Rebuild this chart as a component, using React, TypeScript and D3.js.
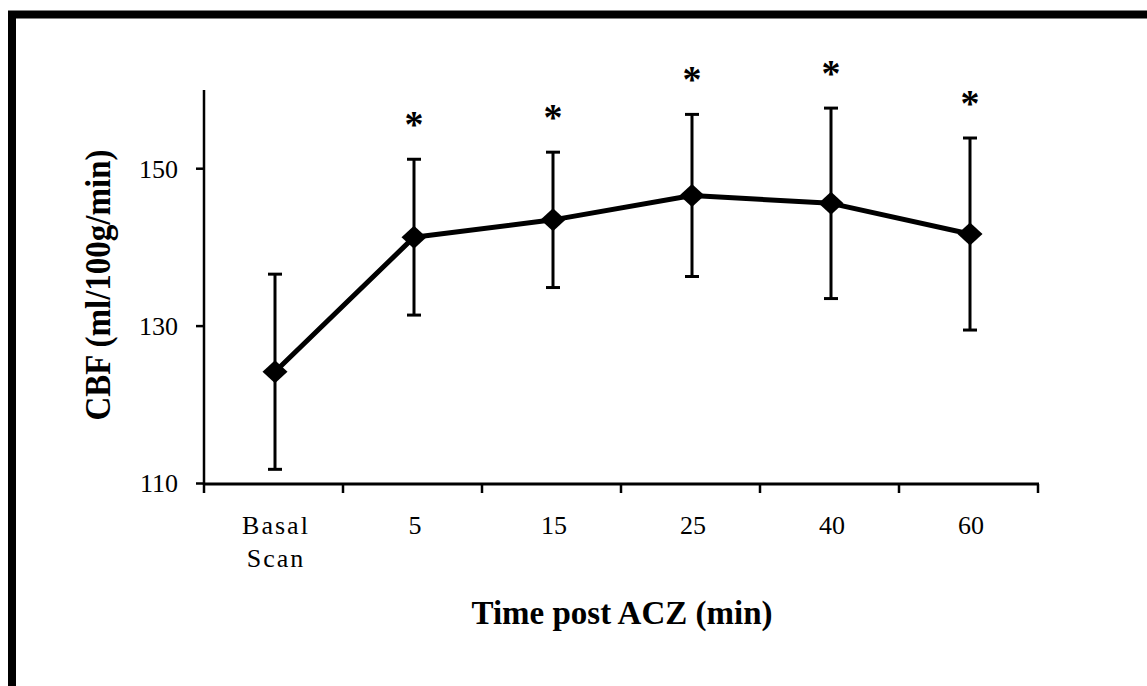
import * as d3 from "d3";

// CBF after acetazolamide: mean ± SD per scan time, * = significant vs basal
const categories = ["Basal Scan", "5", "15", "25", "40", "60"];
const meanCBF = [124.2, 141.3, 143.5, 146.6, 145.6, 141.7];
const sdCBF = [12.4, 9.9, 8.6, 10.3, 12.1, 12.2];
const significant = [false, true, true, true, true, true];
const yTicks = [110, 130, 150];

const W = 1147, H = 686;
const serif = "'Liberation Serif', 'Times New Roman', serif";

export default function App() {
  const x = d3.scaleBand().domain(categories).range([204, 1038]).padding(0);
  const y = d3.scaleLinear().domain([110, 160]).range([483.5, 90]);
  const cx = (c: string) => (x(c) ?? 0) + x.bandwidth() / 2 + 1.5;

  const pts = categories.map((c, i) => ({ c, m: meanCBF[i], sd: sdCBF[i], sig: significant[i] }));
  const line = d3.line<(typeof pts)[number]>().x((d) => cx(d.c)).y((d) => y(d.m))(pts) ?? "";

  const boundaries = [...categories.map((c) => x(c) ?? 0), 1038];
  const dw = 12.5, dh = 11.5, cap = 7;

  return (
    <div style={{ position: "absolute", left: 0, top: 0 }}>
      <svg width={W} height={H} style={{ display: "block", background: "#fff" }}>
        {/* frame, right and bottom edges cut off */}
        <rect x={12} y={14.5} width={1300} height={900} fill="none" stroke="#000" strokeWidth={8} />

        {/* axes */}
        <line x1={204} x2={204} y1={90} y2={485} stroke="#000" strokeWidth={2.5} />
        <line x1={203} x2={1039} y1={484} y2={484} stroke="#000" strokeWidth={3} />
        {yTicks.map((t) => (
          <g key={t}>
            <line x1={196} x2={204} y1={y(t)} y2={y(t)} stroke="#000" strokeWidth={2.5} />
            <text x={178} y={y(t)} dy="0.34em" textAnchor="end" fontSize={26} fontFamily={serif}>{t}</text>
          </g>
        ))}
        {boundaries.map((b, i) => (
          <line key={i} x1={b} x2={b} y1={484} y2={493} stroke="#000" strokeWidth={2.5} />
        ))}
        {categories.map((c) => {
          const parts = c.split(" ");
          return (
            <text key={c} x={cx(c)} y={534} textAnchor="middle" fontSize={26} fontFamily={serif}
              letterSpacing={parts.length > 1 ? 2 : 0}>
              {parts.map((p, j) => (
                <tspan key={j} x={cx(c) + 1} dy={j === 0 ? 0 : 33}>{p}</tspan>
              ))}
            </text>
          );
        })}

        {/* axis titles */}
        <text transform="translate(110,285) rotate(-90)" textAnchor="middle" fontSize={36} fontWeight="bold"
          fontFamily={serif} textLength={271} lengthAdjust="spacingAndGlyphs">CBF (ml/100g/min)</text>
        <text x={622} y={624} textAnchor="middle" fontSize={33} fontWeight="bold" fontFamily={serif}>
          Time post ACZ (min)
        </text>

        {/* error bars */}
        {pts.map((d) => (
          <g key={d.c} stroke="#000" strokeWidth={3}>
            <line x1={cx(d.c)} x2={cx(d.c)} y1={y(d.m + d.sd)} y2={y(d.m - d.sd)} />
            <line x1={cx(d.c) - cap} x2={cx(d.c) + cap} y1={y(d.m + d.sd)} y2={y(d.m + d.sd)} />
            <line x1={cx(d.c) - cap} x2={cx(d.c) + cap} y1={y(d.m - d.sd)} y2={y(d.m - d.sd)} />
          </g>
        ))}

        <path d={line} fill="none" stroke="#000" strokeWidth={5} strokeLinejoin="round" />

        {pts.map((d) => {
          const px = cx(d.c), py = y(d.m);
          return (
            <path key={d.c} d={`M${px},${py - dh}L${px + dw},${py}L${px},${py + dh}L${px - dw},${py}Z`} fill="#000" />
          );
        })}

        {/* significance marks */}
        {pts.filter((d) => d.sig).map((d) => (
          <text key={d.c} x={cx(d.c)} y={y(d.m + d.sd) - 40 + 18} textAnchor="middle" fontSize={38}
            fontWeight="bold" fontFamily={serif}>*</text>
        ))}
      </svg>
    </div>
  );
}
